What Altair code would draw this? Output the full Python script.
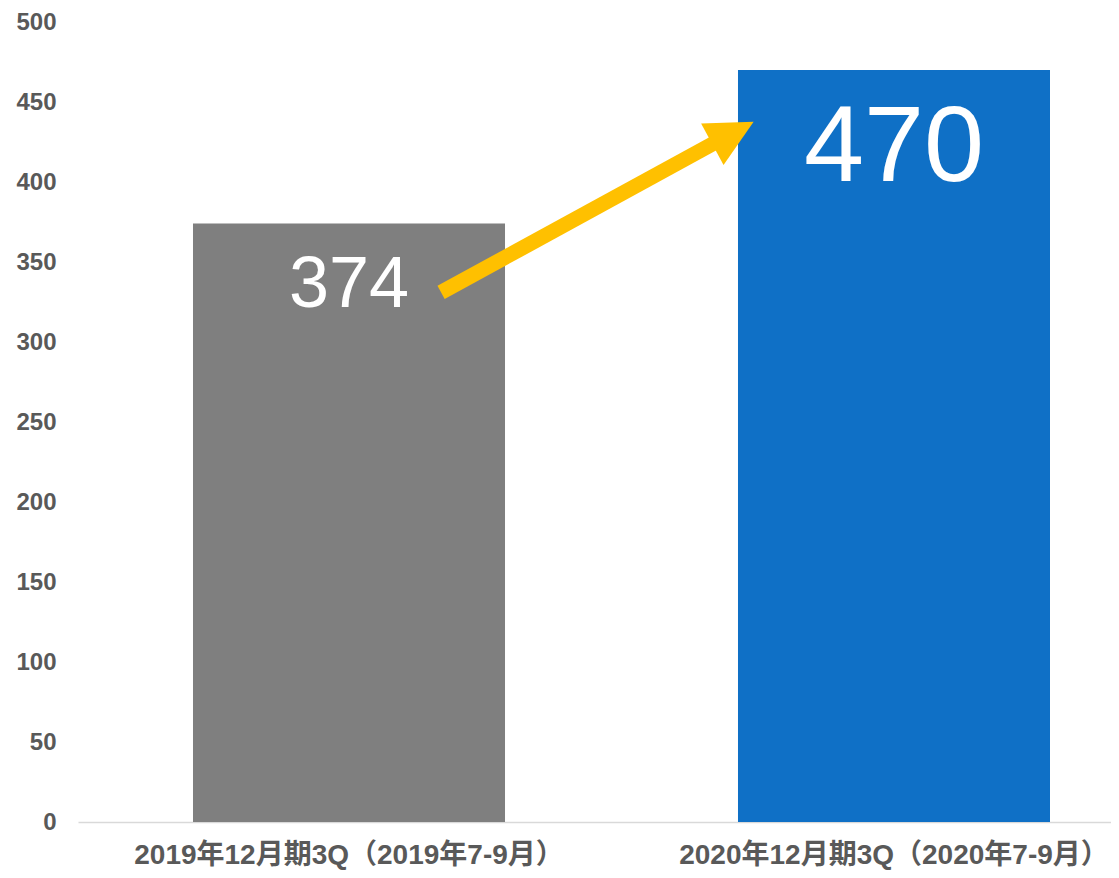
import altair as alt
import pandas as pd

categories = ["2019年12月期3Q（2019年7-9月）", "2020年12月期3Q（2020年7-9月）"]
values = [374, 470]
bar_colors = ["#7F7F7F", "#0F70C6"]

# arrow annotation (x in category-index units, y in data units)
arrow_x = [0.169]
arrow_x2 = [0.677]
arrow_y = [331]
arrow_y2 = [425.6]
head_x = [0.7046]
head_y = [430.6]

df = pd.DataFrame({"cat": categories, "value": values, "color": bar_colors})
arrow_df = pd.DataFrame({"x": arrow_x, "x2": arrow_x2, "y": arrow_y, "y2": arrow_y2})
head_df = pd.DataFrame({"x": head_x, "y": head_y})

FONT = "Liberation Sans, Arial, Noto Sans CJK JP"

xscale = alt.Scale(domain=categories, paddingInner=0.4275, paddingOuter=0.16147, align=0.6534)
yscale = alt.Scale(domain=[0, 500], nice=False)

base = alt.Chart(df)

bars = base.mark_bar().encode(
    x=alt.X("cat:N", scale=xscale, sort=categories, title=None,
            axis=alt.Axis(labelAngle=0, labelFont=FONT, labelFontSize=28, labelFontWeight="bold",
                          labelColor="#595959", labelPadding=19, ticks=False, domainColor="#D9D9D9",
                          domainWidth=1.5, labelLimit=0, grid=False, labelOverlap=False)),
    y=alt.Y("value:Q", scale=yscale, title=None,
            axis=alt.Axis(values=list(range(0, 501, 50)), labelFont=FONT, labelFontSize=24,
                          labelFontWeight="bold", labelColor="#595959", labelPadding=22,
                          ticks=False, domain=False, grid=False)),
    color=alt.Color("color:N", scale=None),
)

t1 = base.transform_filter(alt.datum.value == 374).mark_text(
    font=FONT, fontSize=72, color="white", baseline="alphabetic", dy=83
).encode(x=alt.X("cat:N", scale=xscale, sort=categories), y=alt.Y("value:Q", scale=yscale), text="value:Q")

t2 = base.transform_filter(alt.datum.value == 470).mark_text(
    font=FONT, fontSize=108, color="white", baseline="alphabetic", dy=111
).encode(x=alt.X("cat:N", scale=xscale, sort=categories), y=alt.Y("value:Q", scale=yscale), text="value:Q")

ax = alt.Scale(domain=[-0.4972, 1.3982], nice=False, zero=False)

shaft = alt.Chart(arrow_df).mark_rule(color="#FFC000", strokeWidth=15, strokeCap="butt").encode(
    x=alt.X("x:Q", scale=ax, axis=None),
    x2="x2:Q",
    y=alt.Y("y:Q", scale=yscale),
    y2="y2:Q",
)

head = alt.Chart(head_df).mark_point(
    shape="M1,0L-1,-1L-1,1Z", filled=True, color="#FFC000", opacity=1, size=2209, angle=331.5, strokeWidth=0
).encode(
    x=alt.X("x:Q", scale=ax, axis=None),
    y=alt.Y("y:Q", scale=yscale),
)

main = alt.layer(bars, t1, t2)
arrow = alt.layer(shaft, head)

chart = alt.layer(main, arrow).resolve_scale(x="independent").properties(
    width=1033, height=800,
    autosize=alt.AutoSizeParams(type="none"),
    padding={"left": 70, "top": 14, "right": 0, "bottom": 48},
).configure_view(stroke=None)

chart.save("out.html", embed_options={"renderer": "svg", "actions": False})
